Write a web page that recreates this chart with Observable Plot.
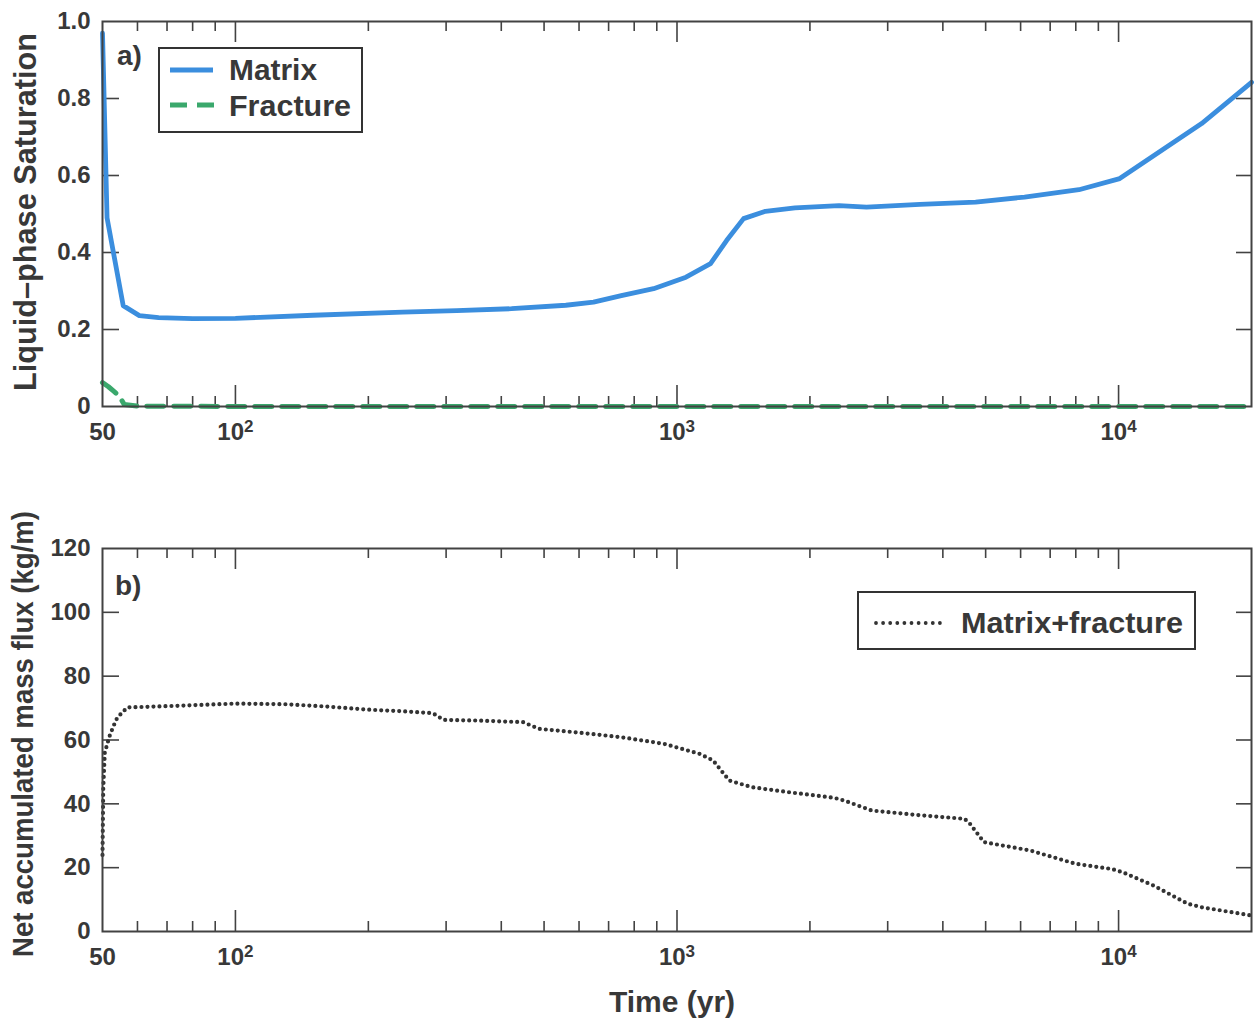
<!DOCTYPE html>
<html><head><meta charset="utf-8">
<script src="https://cdn.jsdelivr.net/npm/d3@7"></script>
<script src="https://cdn.jsdelivr.net/npm/@observablehq/plot@0.6"></script>
<style>
body{margin:0;background:#fff;}
#chart svg{display:block;}
</style></head><body><div id="chart"></div>
<script>
// ---- data ----
const matrixTime = [50, 51.2, 55.7, 60.6, 67, 80, 100, 150, 239, 317, 422, 560, 647, 748, 885, 1048, 1191, 1295, 1415, 1585, 1850, 2328, 2687, 3550, 4745, 6124, 8133, 10060, 15420, 20000];
const matrixSat  = [0.97, 0.49, 0.262, 0.236, 0.231, 0.228, 0.229, 0.237, 0.245, 0.249, 0.254, 0.263, 0.271, 0.288, 0.306, 0.336, 0.371, 0.431, 0.488, 0.507, 0.516, 0.522, 0.518, 0.525, 0.531, 0.544, 0.563, 0.592, 0.735, 0.842];
const fractureTime = [50, 51.5, 53, 54.5, 56, 60, 100, 1000, 10000, 20000];
const fractureSat  = [0.062, 0.052, 0.04, 0.028, 0.005, 0.001, 0, 0, 0, 0];
const fluxTime = [50, 50.2, 50.6, 51.8, 53, 54, 56.9, 70, 100, 130, 160, 200, 239, 280, 296, 350, 448, 487, 600, 745, 935, 1123, 1207, 1313, 1479, 1800, 2265, 2395, 2761, 3500, 4481, 4610, 4955, 6300, 8000, 9632, 10200, 12000, 14330, 15420, 20000];
const fluxValue = [24, 45, 56, 61, 64.5, 67, 70.2, 70.6, 71.4, 71.2, 70.5, 69.5, 69.0, 68.4, 66.3, 66.1, 65.6, 63.5, 62.3, 60.9, 58.8, 55.7, 53.6, 47.3, 45.2, 43.6, 41.9, 41.0, 37.9, 36.5, 35.3, 33.7, 28.0, 25.4, 21.2, 19.6, 18.6, 14.4, 8.7, 7.6, 5.0];

const xLabelTicks = [50, 100, 1000, 10000];
const xLabelBase = ["50", "10", "10", "10"];
const xLabelExp = ["", "2", "3", "4"];
const xMajorTicks = [100, 1000, 10000];
const xMinorTicks = [60, 70, 80, 90, 200, 300, 400, 500, 600, 700, 800, 900, 2000, 3000, 4000, 5000, 6000, 7000, 8000, 9000];
const yTicksA = [0, 0.2, 0.4, 0.6, 0.8, 1.0];
const yTicksB = [0, 20, 40, 60, 80, 100, 120];

const seriesNames = ["Matrix", "Fracture", "Matrix+fracture"];

const matrixData = matrixTime.map((t, i) => ({t, v: matrixSat[i]}));
const fractureData = fractureTime.map((t, i) => ({t, v: fractureSat[i]}));
const fluxData = fluxTime.map((t, i) => ({t, v: fluxValue[i]}));

// ---- style ----
const W = 1254;
const FONT = "'Liberation Sans', Arial, Helvetica, sans-serif";
const TXT = "#383838";
const FRAME = "#424242";
const BLUE = "#3b8ede";
const GREEN = "#3aa86c";

function tickMarks(plotH, plotW, yTicks) {
  const inner = yTicks.slice(1, -1);
  return [
    Plot.tickX(xMajorTicks, {x: d => d, insetTop: plotH - 21, stroke: FRAME, strokeWidth: 1.6}),
    Plot.tickX(xMajorTicks, {x: d => d, insetBottom: plotH - 21, stroke: FRAME, strokeWidth: 1.6}),
    Plot.tickX(xMinorTicks, {x: d => d, insetTop: plotH - 10, stroke: FRAME, strokeWidth: 1.6}),
    Plot.tickX(xMinorTicks, {x: d => d, insetBottom: plotH - 10, stroke: FRAME, strokeWidth: 1.6}),
    Plot.tickY(inner, {y: d => d, insetRight: plotW - 17, stroke: FRAME, strokeWidth: 1.6}),
    Plot.tickY(inner, {y: d => d, insetLeft: plotW - 15, stroke: FRAME, strokeWidth: 1.6})
  ];
}

function makeChart({height, marginTop, marginBottom, yDomain, yTicks, yFormat, lines}) {
  const marginLeft = 102, marginRight = 3;
  const plotH = height - marginTop - marginBottom;
  const plotW = W - marginLeft - marginRight;
  const svg = Plot.plot({
    width: W, height, marginLeft, marginRight, marginTop, marginBottom,
    style: {fontFamily: FONT, fontWeight: "bold", fontSize: "24px", color: TXT, background: "#fff", overflow: "visible"},
    x: {type: "log", domain: [50, 20000]},
    y: {domain: yDomain},
    marks: [
      Plot.axisX(xLabelTicks, {tickSize: 0, tickPadding: 16, tickFormat: d => xLabelBase[xLabelTicks.indexOf(d)] + "^" + xLabelExp[xLabelTicks.indexOf(d)], label: null, fontSize: 24, fill: TXT}),
      Plot.axisY(yTicks, {tickSize: 0, tickPadding: 12, tickFormat: yFormat, label: null, fontSize: 24, fill: TXT}),
      ...tickMarks(plotH, plotW, yTicks),
      ...lines,
      Plot.frame({stroke: FRAME, strokeWidth: 2})
    ]
  });
  // render exponents as raised tspans
  d3.select(svg).selectAll("text").each(function() {
    const s = d3.select(this);
    const txt = s.text();
    if (!txt.includes("^")) return;
    const [base, exp] = txt.split("^");
    s.text(base);
    if (exp) s.append("tspan").attr("dy", "-0.45em").attr("font-size", 17).text(exp);
  });
  return svg;
}

const chartA = makeChart({
  height: 450, marginTop: 21, marginBottom: 44,
  yDomain: [0, 1], yTicks: yTicksA,
  yFormat: d => d === 0 ? "0" : d.toFixed(1),
  lines: [
    Plot.line(fractureData, {x: "t", y: "v", stroke: GREEN, strokeWidth: 5, strokeDasharray: "17,10"}),
    Plot.line(matrixData, {x: "t", y: "v", stroke: BLUE, strokeWidth: 4.8, strokeLinejoin: "round"})
  ]
});

const chartB = makeChart({
  height: 572, marginTop: 98, marginBottom: 91,
  yDomain: [0, 120], yTicks: yTicksB,
  yFormat: d => String(d),
  lines: [
    Plot.line(fluxData, {x: "t", y: "v", stroke: "#333", strokeWidth: 4.2, strokeDasharray: "0,6", strokeLinecap: "round"})
  ]
});

function addText(svg, {x, y, text, size, anchor = "start", rotate = 0, length = null}) {
  const t = d3.select(svg).append("text")
    .attr("transform", `translate(${x},${y}) rotate(${rotate})`)
    .attr("text-anchor", anchor)
    .attr("font-family", FONT).attr("font-weight", "bold")
    .attr("font-size", size).attr("fill", TXT)
    .text(text);
  if (length) t.attr("textLength", length).attr("lengthAdjust", "spacingAndGlyphs");
  return t;
}

// panel A annotations
{
  const s = d3.select(chartA);
  addText(chartA, {x: 36, y: 212, text: "Liquid\u2013phase Saturation", size: 31, anchor: "middle", rotate: -90, length: 358});
  addText(chartA, {x: 117, y: 65, text: "a)", size: 28});
  const g = s.append("g");
  g.append("rect").attr("x", 159).attr("y", 48).attr("width", 203).attr("height", 84)
    .attr("fill", "#fff").attr("stroke", "#333").attr("stroke-width", 2);
  g.append("line").attr("x1", 170).attr("x2", 213).attr("y1", 70).attr("y2", 70)
    .attr("stroke", BLUE).attr("stroke-width", 5);
  g.append("line").attr("x1", 170).attr("x2", 214).attr("y1", 105).attr("y2", 105)
    .attr("stroke", GREEN).attr("stroke-width", 5).attr("stroke-dasharray", "17,10");
  addText(chartA, {x: 229, y: 80, text: seriesNames[0], size: 29, length: 88});
  addText(chartA, {x: 229, y: 116, text: seriesNames[1], size: 29, length: 122});
}
// panel B annotations
{
  const s = d3.select(chartB);
  addText(chartB, {x: 33, y: 284, text: "Net accumulated mass flux (kg/m)", size: 30, anchor: "middle", rotate: -90, length: 446});
  addText(chartB, {x: 672, y: 562, text: "Time (yr)", size: 30, anchor: "middle"});
  addText(chartB, {x: 115, y: 145, text: "b)", size: 28});
  const g = s.append("g");
  g.append("rect").attr("x", 858).attr("y", 142).attr("width", 337).attr("height", 57)
    .attr("fill", "#fff").attr("stroke", "#333").attr("stroke-width", 2);
  g.append("line").attr("x1", 876).attr("x2", 940).attr("y1", 173).attr("y2", 173)
    .attr("stroke", "#333").attr("stroke-width", 3.8).attr("stroke-dasharray", "0,7.1").attr("stroke-linecap", "round");
  addText(chartB, {x: 961, y: 183, text: seriesNames[2], size: 30, length: 222});
}

document.getElementById("chart").append(chartA, chartB);
</script>
</body></html>
